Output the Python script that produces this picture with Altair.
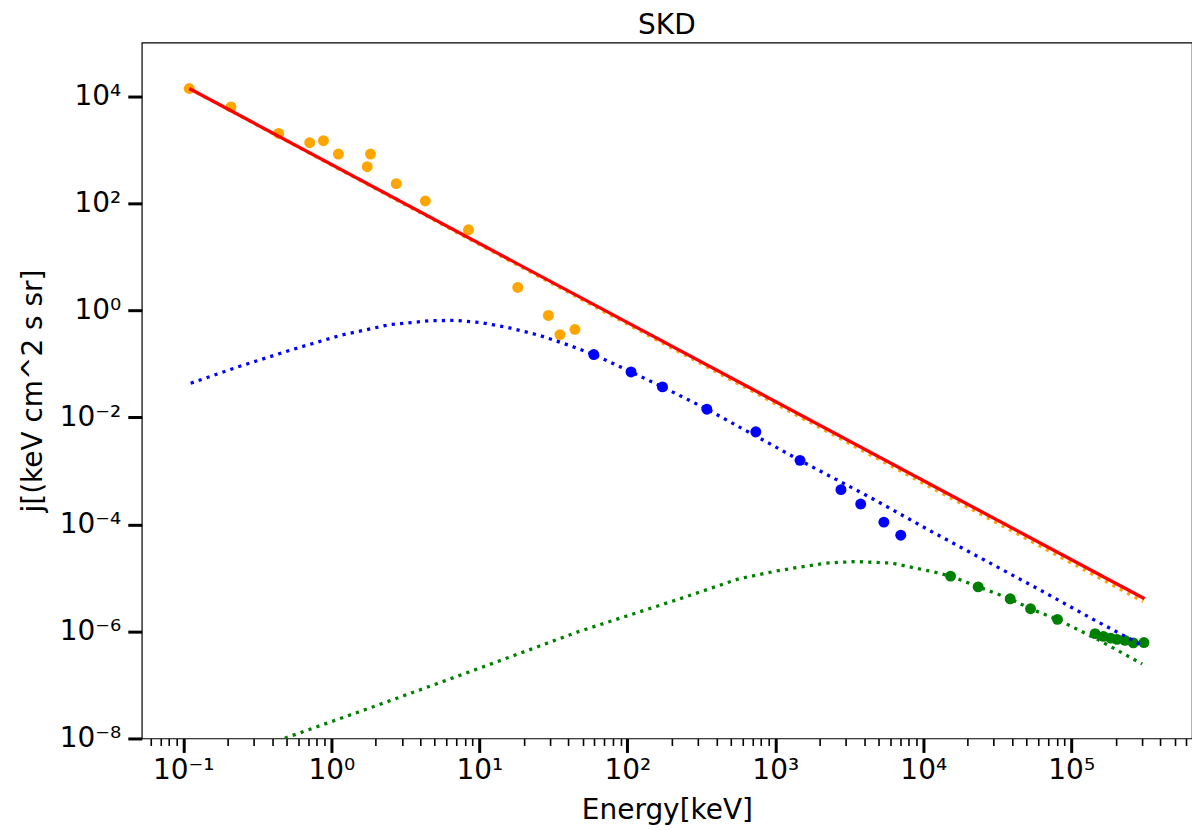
import pandas as pd
import altair as alt

orange_x = [0.1097, 0.210, 0.441, 0.715, 0.885, 1.117, 1.75, 1.84, 2.75, 4.32, 8.45, 18.2, 29.3, 35.1, 44.3]
orange_y = [1.39e4, 6.3e3, 2.01e3, 1.35e3, 1.47e3, 830, 481, 830, 232, 110, 31.8, 2.67, 0.80, 0.351, 0.44]

blue_x = [59.4, 106, 173, 345, 739, 1470, 2780, 3780, 5420, 7050]
blue_y = [0.149, 0.0705, 0.037, 0.0142, 0.00536, 0.00157, 4.45e-4, 2.4e-4, 1.1e-4, 6.27e-5]

green_x = [1.53e4, 2.35e4, 3.87e4, 5.31e4, 8.07e4, 1.45e5, 1.65e5, 1.85e5, 2.04e5, 2.31e5, 2.63e5, 3.1e5]
green_y = [1.08e-5, 6.8e-6, 4.07e-6, 2.65e-6, 1.68e-6, 9.08e-7, 8.07e-7, 7.5e-7, 7.1e-7, 6.8e-7, 6.1e-7, 6.2e-7]

# ---- model curves ----
red_fit_x = [0.1097, 3.133e5]
red_fit_y = [1.39e4, 4.07e-6]

orange_fit_x = [0.1097, 3.055e5]
orange_fit_y = [1.39e4, 3.63e-6]

blue_fit_x = [0.1122, 0.241, 0.552, 1.175, 2.477, 4.732, 6.982, 10.28, 15.17, 25.41, 40.55,
              59.43, 106.2, 172.6, 345.9, 1469, 4498, 11400, 62950, 139000, 310500]
blue_fit_y = [0.04335, 0.0899, 0.1866, 0.3443, 0.5383, 0.6397, 0.6471, 0.5861, 0.4853, 0.3404, 0.2213,
              0.1486, 0.0705, 0.0370, 0.01419, 0.00157, 3.07e-4, 7.33e-5, 5.74e-6, 1.71e-6, 5.26e-7]

green_fit_x = [0.485, 2.12, 10.02, 47.3, 223.9, 567.5, 1057, 2183, 3475, 6138, 12330,
               15310, 23550, 38730, 53090, 80720, 151700, 207000, 302000]
green_fit_y = [1.01e-8, 4.31e-8, 2.05e-7, 1.0e-6, 4.02e-6, 9.62e-6, 1.374e-5, 1.888e-5, 2.018e-5, 1.888e-5, 1.259e-5,
               1.079e-5, 6.82e-6, 4.07e-6, 2.65e-6, 1.67e-6, 7.02e-7, 4.38e-7, 2.47e-7]

TITLE = ["SKD"]

# ---- axes ----
X_DOMAIN = [0.0524, 6.55e5]
Y_DOMAIN = [1e-8, 1e5]

x_major = [0.1, 1, 10, 100, 1e3, 1e4, 1e5]
x_major_labels = ["10⁻¹", "10⁰", "10¹", "10²", "10³", "10⁴", "10⁵"]
x_minor = [k * m for m in [0.01] + x_major for k in range(2, 10)
           if X_DOMAIN[0] <= k * m <= X_DOMAIN[1]]
x_ticks = sorted(x_major + x_minor)

y_major = [1e-8, 1e-6, 1e-4, 1e-2, 1, 1e2, 1e4]
y_major_labels = ["10⁻⁸", "10⁻⁶", "10⁻⁴", "10⁻²", "10⁰", "10²", "10⁴"]

LOG10 = "log(datum.value)/LN10"
IS_MAJOR = f"abs({LOG10} - round({LOG10})) < 0.001"

W, H = 1052, 697


def js_list(items):
    return "[" + ",".join(f"'{s}'" for s in items) + "]"


x_axis = alt.Axis(
    values=x_ticks,
    labelExpr=f"{IS_MAJOR} ? {js_list(x_major_labels)}[round({LOG10}) + 1] : ''",
    tickSize={"condition": {"test": IS_MAJOR, "value": 14}, "value": 7},
    tickWidth={"condition": {"test": IS_MAJOR, "value": 3}, "value": 1.6},
    labelOverlap=False,
    labelFlush=False,
    labelPadding=4,
    domain=False,
    grid=False,
    title="Energy[keV]",
    titleY=80,
    titleBaseline="alphabetic",
)

y_axis = alt.Axis(
    values=y_major,
    labelExpr=f"{js_list(y_major_labels)}[round({LOG10}/2) + 4]",
    tickSize=14,
    tickWidth=3,
    labelPadding=7,
    labelOverlap=False,
    labelFlush=False,
    domain=False,
    grid=False,
    title="j[(keV cm^2 s sr]",
    titleX=-100,
    titleY=H / 2,
    titleBaseline="alphabetic",
)

X = alt.X("energy:Q", scale=alt.Scale(type="log", domain=X_DOMAIN, nice=False), axis=x_axis)
Y = alt.Y("flux:Q", scale=alt.Scale(type="log", domain=Y_DOMAIN, nice=False), axis=y_axis)


def points(xs, ys, color):
    df = pd.DataFrame({"energy": xs, "flux": ys})
    return alt.Chart(df).mark_circle(size=120, color=color, opacity=1).encode(x=X, y=Y)


def curve(xs, ys, color, dotted=True):
    df = pd.DataFrame({"energy": xs, "flux": ys})
    if dotted:
        mark = alt.Chart(df).mark_line(color=color, strokeWidth=3.3, strokeDash=[3.2, 5.2],
                                       strokeCap="butt", clip=True)
    else:
        mark = alt.Chart(df).mark_line(color=color, strokeWidth=3.3, clip=True)
    return mark.encode(x=X, y=Y)


# plot title drawn as a text mark above the frame
title = alt.Chart(pd.DataFrame({"t": TITLE})).mark_text(
    font="DejaVu Sans", fontSize=28, color="black", align="center", baseline="alphabetic"
).encode(text="t:N", x=alt.value(W / 2), y=alt.value(-9))

chart = alt.layer(
    points(orange_x, orange_y, "#FFA500"),
    points(blue_x, blue_y, "#0000FF"),
    points(green_x, green_y, "#008000"),
    curve(green_fit_x, green_fit_y, "#008000"),
    curve(blue_fit_x, blue_fit_y, "#0000FF"),
    curve(orange_fit_x, orange_fit_y, "#FFA500"),
    curve(red_fit_x, red_fit_y, "#FF0000", dotted=False),
    title,
).properties(
    width=W,
    height=H,
    autosize=alt.AutoSizeParams(type="none"),
    padding={"left": 134, "top": 34, "right": 0, "bottom": 90},
).configure_axis(
    labelFont="DejaVu Sans",
    labelFontSize=28,
    labelColor="black",
    titleFont="DejaVu Sans",
    titleFontSize=28,
    titleFontWeight="normal",
    titleColor="black",
    tickColor="black",
).configure_view(
    stroke="black",
    strokeWidth=1.2,
)

chart.save("out.html", embed_options={"renderer": "svg", "actions": False})
